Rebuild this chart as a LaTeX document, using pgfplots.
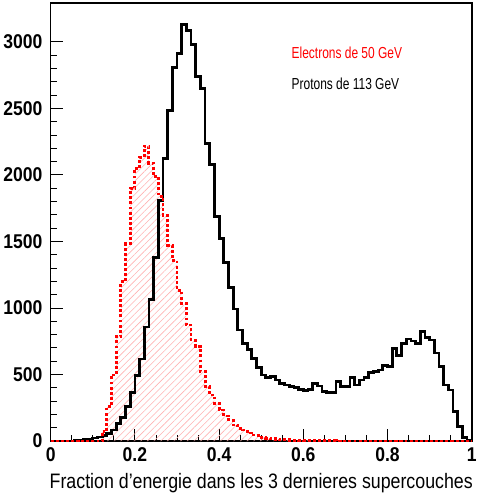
\documentclass[border=0pt]{standalone}
\usepackage{fontspec}
\setmainfont{Liberation Sans}
\newfontfamily\tickfont{Liberation Sans}[FakeStretch=0.88]
\newfontfamily\labfont{Liberation Sans}[FakeStretch=0.85]
\newfontfamily\legfont{Liberation Sans}[FakeStretch=0.75]
\usepackage{pgfplots}
\pgfplotsset{compat=1.18}
\usepackage{pgfplotstable}
\usetikzlibrary{patterns.meta}

% bin left edge, counts (90 bins on [0,1]); last row closes the last bin
\pgfplotstableread{
x      n
0.0000 0
0.0111 0
0.0222 0
0.0333 0
0.0444 0
0.0556 3
0.0667 6
0.0778 10
0.0889 15
0.1000 22
0.1111 30
0.1222 40
0.1333 55
0.1444 83
0.1556 133
0.1667 175
0.1778 260
0.1889 365
0.2000 492
0.2111 617
0.2222 857
0.2333 1065
0.2444 1377
0.2556 1808
0.2667 2125
0.2778 2487
0.2889 2810
0.3000 2915
0.3111 3133
0.3222 3088
0.3333 2983
0.3444 2742
0.3556 2652
0.3667 2239
0.3778 2081
0.3889 1690
0.4000 1520
0.4111 1340
0.4222 1152
0.4333 992
0.4444 834
0.4556 734
0.4667 690
0.4778 621
0.4889 554
0.5000 496
0.5111 478
0.5222 483
0.5333 458
0.5444 433
0.5556 421
0.5667 408
0.5778 400
0.5889 388
0.6000 378
0.6111 388
0.6222 433
0.6333 413
0.6444 370
0.6556 363
0.6667 363
0.6778 446
0.6889 408
0.7000 408
0.7111 476
0.7222 421
0.7333 458
0.7444 476
0.7556 516
0.7667 521
0.7778 533
0.7889 566
0.8000 558
0.8111 696
0.8222 641
0.8333 734
0.8444 766
0.8556 751
0.8667 734
0.8778 821
0.8889 777
0.9000 759
0.9111 662
0.9222 558
0.9333 421
0.9444 383
0.9556 220
0.9667 110
0.9778 25
0.9889 5
1.0000 5
}\protons

\pgfplotstableread{
x      n
0.0000 0
0.0111 0
0.0222 0
0.0333 0
0.0444 0
0.0556 0
0.0667 0
0.0778 0
0.0889 0
0.1000 0
0.1111 0
0.1222 70
0.1333 258
0.1444 496
0.1556 784
0.1667 1197
0.1778 1485
0.1889 1898
0.2000 2049
0.2111 2132
0.2222 2216
0.2333 2086
0.2444 1986
0.2556 1840
0.2667 1698
0.2778 1472
0.2889 1360
0.3000 1134
0.3111 1034
0.3222 872
0.3333 759
0.3444 709
0.3556 521
0.3667 408
0.3778 346
0.3889 283
0.4000 233
0.4111 188
0.4222 158
0.4333 120
0.4444 95
0.4556 83
0.4667 60
0.4778 45
0.4889 38
0.5000 28
0.5111 22
0.5222 18
0.5333 13
0.5444 10
0.5556 8
0.5667 7
0.5778 6
0.5889 5
0.6000 4
0.6111 3
0.6222 3
0.6333 2
0.6444 2
0.6556 1
0.6667 1
0.6778 0
0.6889 0
0.7000 0
0.7111 0
0.7222 0
0.7333 0
0.7444 0
0.7556 0
0.7667 0
0.7778 0
0.7889 0
0.8000 0
0.8111 0
0.8222 0
0.8333 0
0.8444 0
0.8556 0
0.8667 0
0.8778 0
0.8889 0
0.9000 0
0.9111 0
0.9222 0
0.9333 0
0.9444 0
0.9556 0
0.9667 0
0.9778 0
0.9889 0
1.0000 0
}\electrons

\begin{document}
\begin{tikzpicture}
\begin{axis}[
  scale only axis,
  width=421bp, height=437.7bp,
  xmin=0, xmax=1, ymin=0, ymax=3290,
  axis line style={line width=1.6bp},
  tick align=inside,
  xtick pos=left, ytick pos=left,
  xtick={0,0.2,0.4,0.6,0.8,1},
  xticklabels={0,0.2,0.4,0.6,0.8,1},
  ytick={0,500,1000,1500,2000,2500,3000},
  yticklabels={0,500,1000,1500,2000,2500,3000},
  minor x tick num=3, minor y tick num=4,
  major tick length=12bp, minor tick length=6bp,
  tick style={black, line width=0.9bp},
  ticklabel style={font=\tickfont\bfseries\fontsize{20}{21}\selectfont, inner sep=0pt},
  xticklabel style={anchor=base, yshift=-20.7bp},
  yticklabel style={anchor=east, xshift=-8bp},
  xlabel={Fraction d’energie dans les 3 dernieres supercouches},
  xlabel style={at={(axis description cs:1,0)}, anchor=base east,
    yshift=-47.3bp, xshift=1.3bp, inner sep=0pt,
    font=\labfont\fontsize{21}{22}\selectfont},
  clip=false,
]
\addplot[const plot, draw=none,
  pattern={Lines[angle=45, distance=4.7bp, line width=0.6bp]},
  pattern color=red!30] table[x=x, y=n] {\electrons} \closedcycle;
\addplot[const plot, black, line width=2.8bp] table[x=x, y=n] {\protons};
\addplot[const plot, red, line width=2.9bp, dash pattern=on 2.9bp off 2.2bp]
  table[x=x, y=n] {\electrons};
\node[anchor=base west, inner sep=0pt, text=red,
  font=\legfont\fontsize{16}{16}\selectfont] at (axis cs:0.572,2875) {Electrons de 50 GeV};
\node[anchor=base west, inner sep=0pt, text=black,
  font=\legfont\fontsize{16}{16}\selectfont] at (axis cs:0.572,2645) {Protons de 113 GeV};
\end{axis}
\pgfresetboundingbox
\path[use as bounding box] ([shift={(-50.7bp,-61bp)}]current axis.south west)
  rectangle ([shift={(5.3bp,3.3bp)}]current axis.north east);
\end{tikzpicture}
\end{document}
